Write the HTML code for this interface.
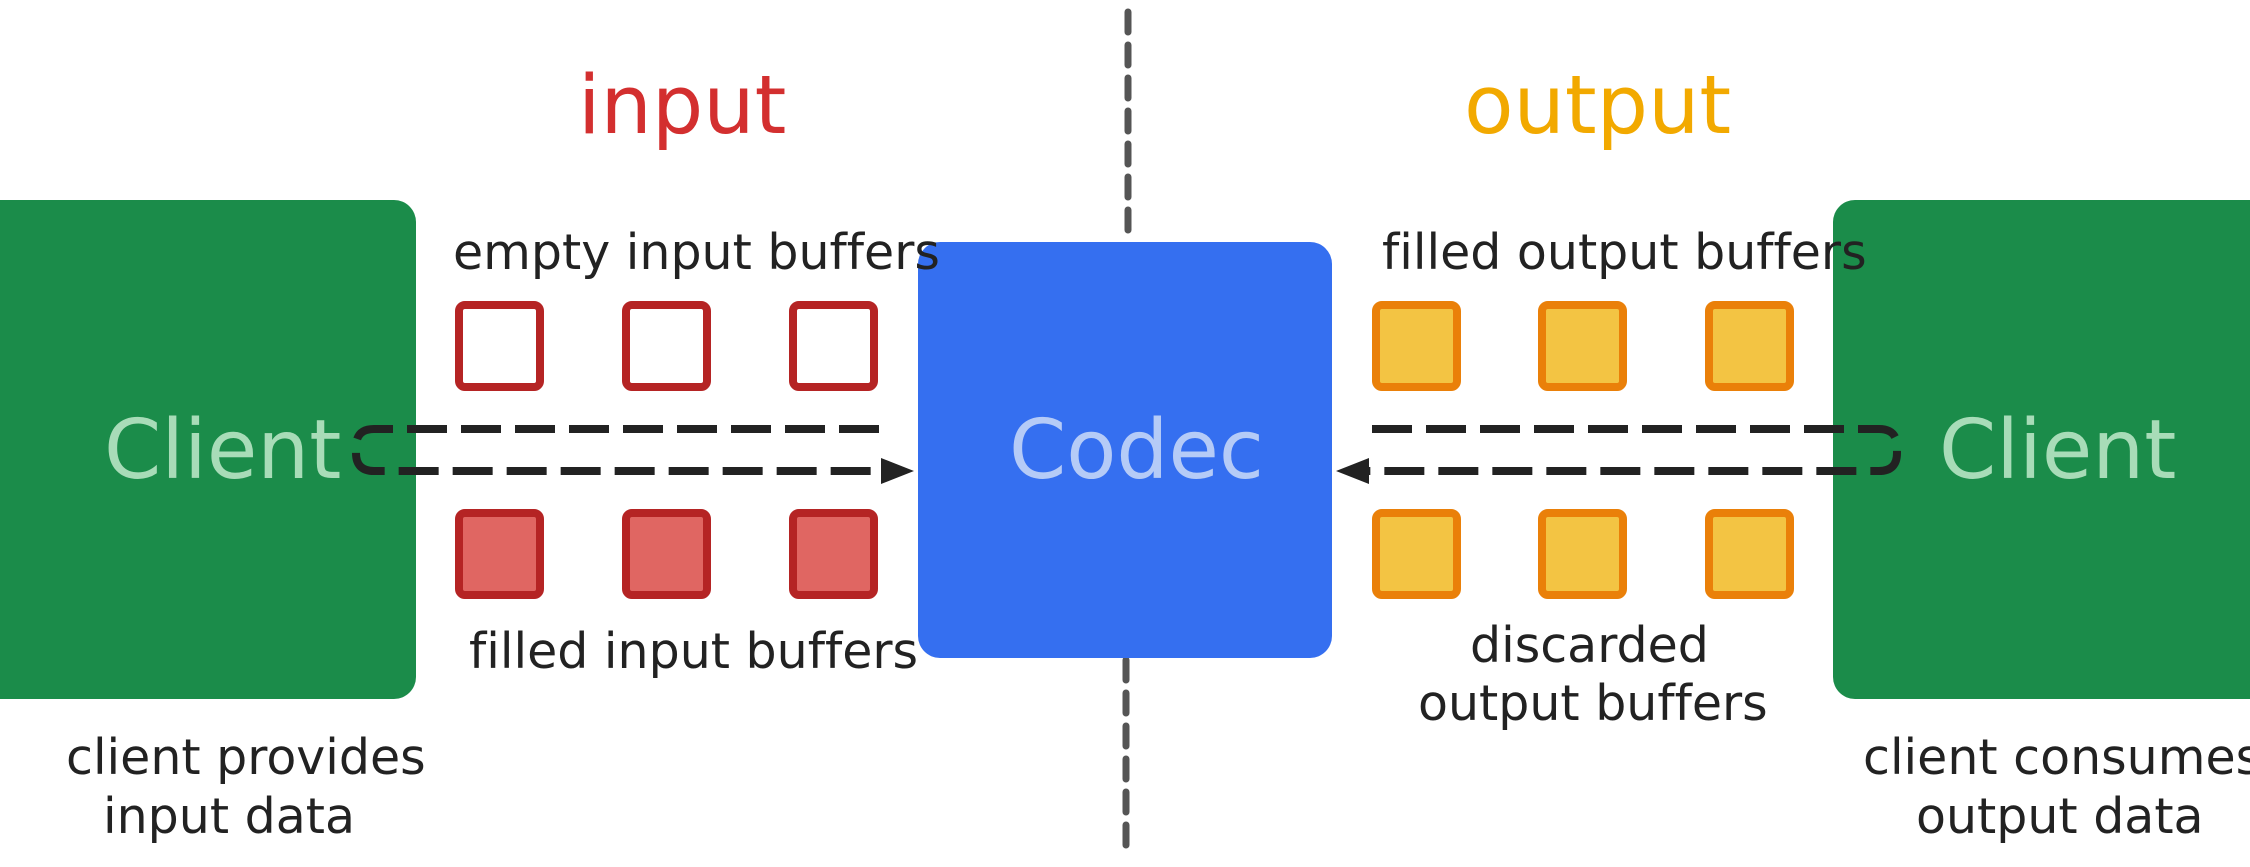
<!DOCTYPE html>
<html><head><meta charset="utf-8"><style>html,body{margin:0;padding:0;background:#fff;}svg{display:block}text{font-variant-ligatures:none;font-feature-settings:"liga" 0;}</style></head>
<body>
<svg width="2250" height="867" viewBox="0 0 2250 867" xmlns="http://www.w3.org/2000/svg" font-family="'DejaVu Sans','Liberation Sans',sans-serif">
<rect width="2250" height="867" fill="#fff"/>
<line x1="1128" y1="12" x2="1128" y2="232" stroke="#555" stroke-width="7" stroke-linecap="round" stroke-dasharray="20 13"/>
<line x1="1126" y1="660" x2="1126" y2="848" stroke="#555" stroke-width="7" stroke-linecap="round" stroke-dasharray="20 13"/>
<text x="578" y="133" font-size="81" fill="#d32f2f">input</text>
<text x="1464" y="133" font-size="81" fill="#f2a900">output</text>
<rect x="-30" y="200" width="446" height="499" rx="22" fill="#1b8c4a"/>
<rect x="1833" y="200" width="450" height="499" rx="22" fill="#1b8c4a"/>
<rect x="918" y="242" width="414" height="416" rx="22" fill="#356ff0"/>
<text x="104" y="478" font-size="82" fill="#a8dcb8">Client</text>
<text x="1939" y="478" font-size="82" fill="#a8dcb8">Client</text>
<text x="1009" y="478" font-size="82" fill="#b5cbf7">Codec</text>
<g font-size="49" fill="#222">
<text x="453" y="269">empty input buffers</text>
<text x="469" y="668">filled input buffers</text>
<text x="1382" y="269">filled output buffers</text>
<text x="1470" y="662">discarded</text>
<text x="1418" y="720">output buffers</text>
<text x="66" y="774">client provides</text>
<text x="103" y="833">input data</text>
<text x="1863" y="774">client consumes</text>
<text x="1916" y="833">output data</text>
</g>
<g stroke="#b52424" stroke-width="8">
<rect x="459" y="305" width="81" height="82" rx="6" fill="#fff"/>
<rect x="626" y="305" width="81" height="82" rx="6" fill="#fff"/>
<rect x="793" y="305" width="81" height="82" rx="6" fill="#fff"/>
<rect x="459" y="513" width="81" height="82" rx="6" fill="#e06662"/>
<rect x="626" y="513" width="81" height="82" rx="6" fill="#e06662"/>
<rect x="793" y="513" width="81" height="82" rx="6" fill="#e06662"/>
</g>
<g stroke="#ea8009" stroke-width="8" fill="#f3c443">
<rect x="1376" y="305" width="81" height="82" rx="6"/>
<rect x="1542" y="305" width="81" height="82" rx="6"/>
<rect x="1709" y="305" width="81" height="82" rx="6"/>
<rect x="1376" y="513" width="81" height="82" rx="6"/>
<rect x="1542" y="513" width="81" height="82" rx="6"/>
<rect x="1709" y="513" width="81" height="82" rx="6"/>
</g>
<path d="M879 429 H374 Q356 429 356 447 V453 Q356 471 374 471 H884" fill="none" stroke="#222" stroke-width="8" stroke-dasharray="40 14"/>
<polygon points="914,471 881,458 881,484" fill="#222"/>
<path d="M1372 429 H1879 Q1897 429 1897 447 V453 Q1897 471 1879 471 H1366" fill="none" stroke="#222" stroke-width="8" stroke-dasharray="40 14"/>
<polygon points="1336,471 1369,458 1369,484" fill="#222"/>
</svg>
</body></html>
